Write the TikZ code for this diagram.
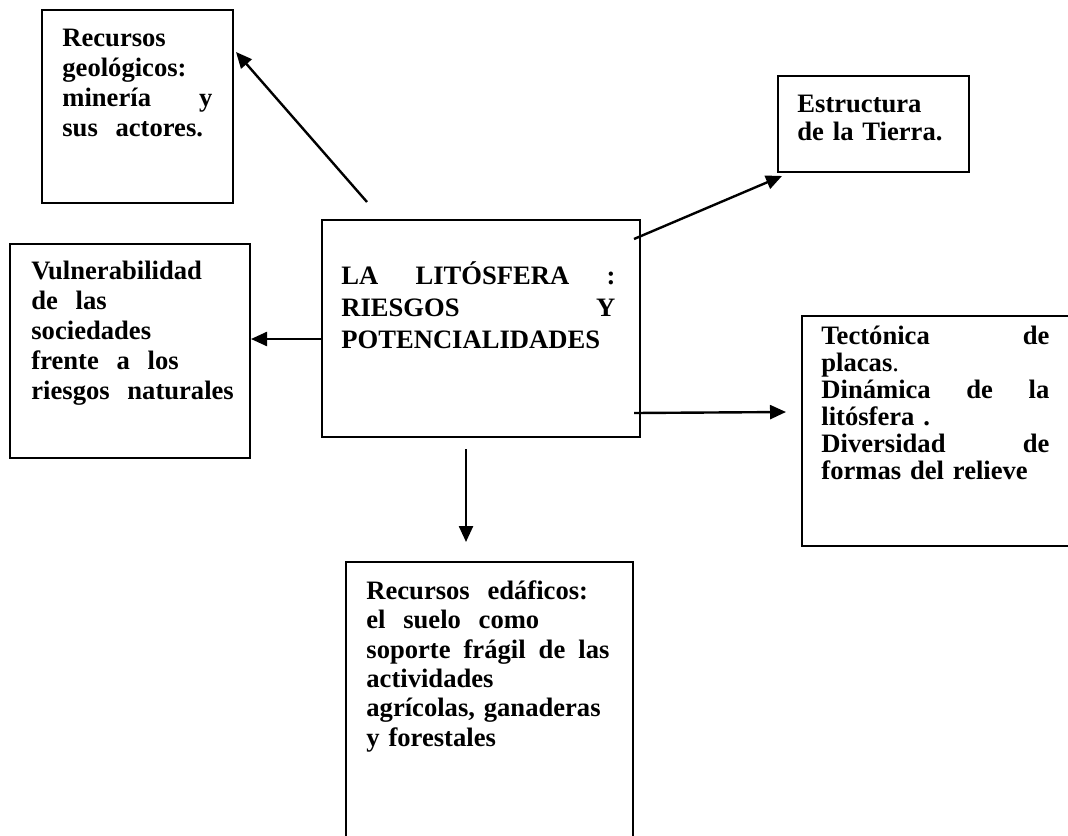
\documentclass[tikz,border=0pt]{standalone}
\usepackage{fontspec}
\setmainfont{Liberation Serif}
\usetikzlibrary{arrows.meta}

\def\unit{0.5pt}

\begin{document}
\begin{tikzpicture}[%
	x=\unit, y=-\unit,%
	box/.style ={draw, line width=1pt, inner sep=0pt},%
	txt/.style ={anchor=north west, inner sep=0pt, align=left, font=\fontsize{13.3}{#1}\selectfont\bfseries},%
	arr/.style ={line width=1.2pt, -{Triangle[length=8pt,width=7pt]}},%
	]
	\useasboundingbox (0,0) rectangle (1068,835);
	\clip (0,0) rectangle (1068,835);
%%% boxes
	\node [box, minimum width=95.5pt, minimum height=96.5pt] (geo) at (137.5,106.5) {};
	\node [box, minimum width=95.5pt, minimum height=48pt] (estr) at (873.5,124) {};
	\node [box, minimum width=159pt, minimum height=108.5pt] (lito) at (481,328.5) {};
	\node [box, minimum width=120pt, minimum height=107pt] (vuln) at (130,351) {};
	\node [box, minimum width=144pt, minimum height=115pt] (tect) at (946,431) {};
	\node [box, minimum width=143.5pt, minimum height=149pt] (edaf) at (489.5,711) {};
%%% boxes
%%% texts
	\node [txt=15pt, text width=75pt] at ([shift={(21,16)}]geo.north west)
		{\strut Recursos\\ geológicos:\\ minería\hfill y\\ sus\ \ actores.};
	\node [txt=12.5pt, text width=75pt] at ([shift={(20,19.5)}]estr.north west)
		{\strut Estructura\\ de la Tierra.};
	\node [txt=16pt, text width=137pt] at ([shift={(20,42.6)}]lito.north west)
		{\strut LA\hfill LITÓSFERA\hfill :\\ RIESGOS\hfill Y\\ POTENCIALIDADES};
	\node [txt=15pt, text width=110pt] at ([shift={(22,15)}]vuln.north west)
		{\strut Vulnerabilidad\\ de\ \ las\\ sociedades\\ frente\ \ a\ \ los\\ riesgos\ \ naturales};
	\node [txt=13.5pt, text width=114pt] at ([shift={(20,10)}]tect.north west)
		{\strut Tectónica\hfill de\\ placas{\mdseries .}\\ Dinámica\hfill de\hfill la\\ litósfera .\\ Diversidad\hfill de\\ formas del relieve};
	\node [txt=14.7pt, text width=121.5pt] at ([shift={(21,17.4)}]edaf.north west)
		{\strut Recursos\ \ edáficos:\\ el\ \ suelo\ \ como\\ soporte\hfill frágil\hfill de\hfill las\\ actividades\\ agrícolas, ganaderas\\ y forestales};
%%% texts
%%% arrows
	\draw [arr] ([shift={(46,-17)}]lito.north west) -- ([shift={(2,43)}]geo.north east);
	\draw [arr] ([shift={(-7,20)}]lito.north east) -- ([shift={(5,3)}]estr.south west);
	\draw [arr] ([shift={(0,10.5)}]lito.west) -- ([shift={(0,-12)}]vuln.east);
	\draw [arr] ([shift={(-7,-25)}]lito.south east) -- ([shift={(-15,-19)}]tect.west);
	\draw [arr] ([shift={(-15,11)}]lito.south) -- ([shift={(-23.5,-19)}]edaf.north);
%%% arrows
\end{tikzpicture}
\end{document}
